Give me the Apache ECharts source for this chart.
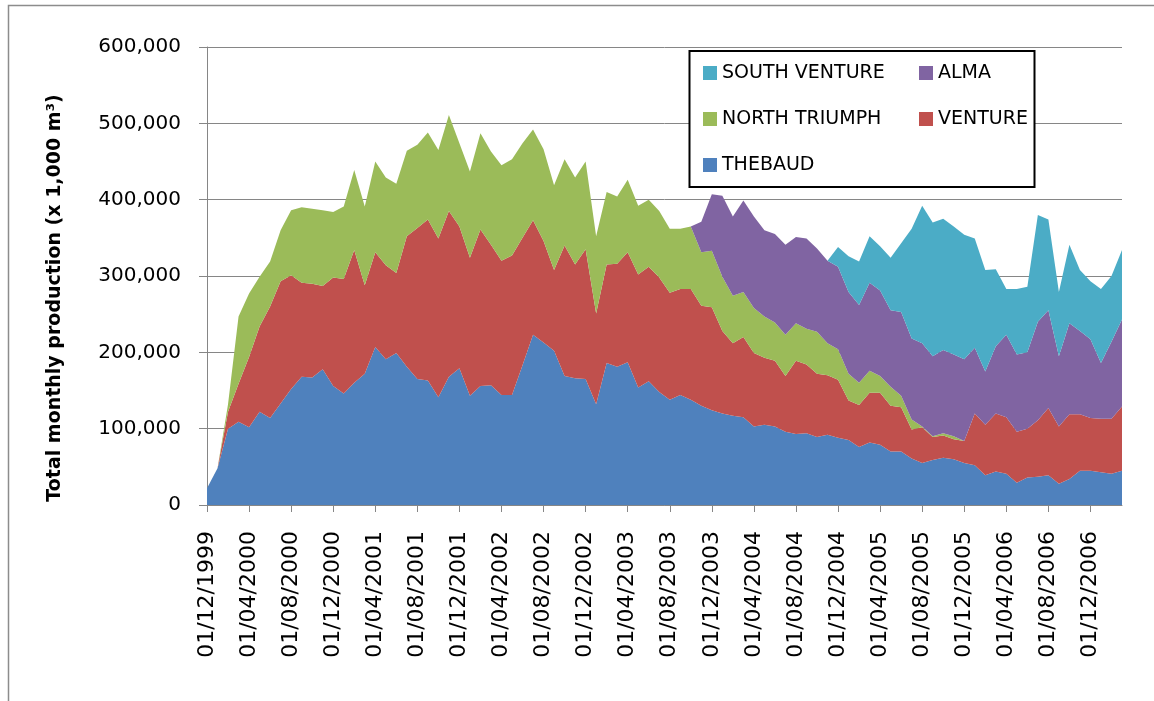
<!DOCTYPE html>
<html>
<head>
<meta charset="utf-8">
<script src="https://cdn.jsdelivr.net/npm/echarts@6/dist/echarts.min.js"></script>
<style>
html,body{margin:0;padding:0;background:#fff;}
#c{width:1154px;height:701px;}
</style>
</head>
<body>
<div id="c"></div>
<script>
// Monthly categories (01/12/1999 .. 01/03/2007)
const categories = [
  "01/12/1999",
  "01/01/2000","01/02/2000","01/03/2000","01/04/2000","01/05/2000","01/06/2000","01/07/2000","01/08/2000","01/09/2000","01/10/2000","01/11/2000","01/12/2000",
  "01/01/2001","01/02/2001","01/03/2001","01/04/2001","01/05/2001","01/06/2001","01/07/2001","01/08/2001","01/09/2001","01/10/2001","01/11/2001","01/12/2001",
  "01/01/2002","01/02/2002","01/03/2002","01/04/2002","01/05/2002","01/06/2002","01/07/2002","01/08/2002","01/09/2002","01/10/2002","01/11/2002","01/12/2002",
  "01/01/2003","01/02/2003","01/03/2003","01/04/2003","01/05/2003","01/06/2003","01/07/2003","01/08/2003","01/09/2003","01/10/2003","01/11/2003","01/12/2003",
  "01/01/2004","01/02/2004","01/03/2004","01/04/2004","01/05/2004","01/06/2004","01/07/2004","01/08/2004","01/09/2004","01/10/2004","01/11/2004","01/12/2004",
  "01/01/2005","01/02/2005","01/03/2005","01/04/2005","01/05/2005","01/06/2005","01/07/2005","01/08/2005","01/09/2005","01/10/2005","01/11/2005","01/12/2005",
  "01/01/2006","01/02/2006","01/03/2006","01/04/2006","01/05/2006","01/06/2006","01/07/2006","01/08/2006","01/09/2006","01/10/2006","01/11/2006","01/12/2006",
  "01/01/2007","01/02/2007","01/03/2007"
];

const thebaud = [
  22000,48000,100000,109000,102000,122000,114000,133000,152000,168000,
  167000,178000,156000,146000,160000,172000,207000,191000,199000,181000,
  165000,163000,141000,168000,179000,143000,156000,157000,144000,144000,
  183000,223000,213000,202000,169000,166000,165000,132000,186000,181000,
  187000,154000,162000,148000,138000,144000,138000,130000,124000,120000,
  117000,115000,103000,105000,103000,96000,93000,94000,89000,92000,
  88000,85000,76000,82000,79000,70000,70000,61000,55000,59000,
  62000,60000,55000,52000,39000,44000,41000,29000,36000,37000,
  39000,28000,34000,45000,45000,43000,41000,45000
];

const venture = [
  0,0,22000,50000,92000,112000,146000,160000,149000,123000,
  123000,109000,142000,150000,174000,116000,124000,123000,105000,171000,
  198000,211000,208000,217000,186000,181000,205000,184000,176000,183000,
  167000,150000,133000,106000,171000,149000,170000,119000,129000,135000,
  144000,148000,150000,150000,140000,139000,145000,131000,135000,108000,
  95000,105000,96000,88000,86000,73000,96000,90000,83000,78000,
  76000,52000,55000,65000,68000,60000,58000,38000,47000,30000,
  29000,26000,29000,68000,66000,76000,74000,67000,64000,74000,
  88000,75000,85000,74000,69000,70000,72000,84000
];

const northTriumph = [
  0,0,10000,88000,83000,65000,59000,67000,85000,99000,
  98000,99000,86000,95000,105000,103000,119000,115000,117000,112000,
  109000,114000,116000,126000,109000,113000,126000,122000,125000,126000,
  124000,119000,120000,111000,113000,114000,115000,101000,95000,88000,
  95000,90000,88000,87000,84000,79000,82000,70000,74000,71000,
  62000,59000,59000,54000,50000,54000,49000,47000,55000,42000,
  40000,35000,29000,29000,22000,25000,15000,13000,1000,1000,
  3000,4000,0,0,0,0,0,0,0,0,
  0,0,0,0,0,0,0,0
];

const alma = [
  0,0,0,0,0,0,0,0,0,0,
  0,0,0,0,0,0,0,0,0,0,
  0,0,0,0,0,0,0,0,0,0,
  0,0,0,0,0,0,0,0,0,0,
  0,0,0,0,0,0,0,40000,74000,106000,
  104000,120000,120000,113000,116000,118000,113000,118000,109000,108000,
  108000,107000,102000,115000,112000,100000,110000,106000,109000,105000,
  109000,107000,107000,86000,70000,88000,108000,101000,100000,129000,
  128000,92000,119000,109000,103000,73000,101000,114000
];

const southVenture = [
  0,0,0,0,0,0,0,0,0,0,
  0,0,0,0,0,0,0,0,0,0,
  0,0,0,0,0,0,0,0,0,0,
  0,0,0,0,0,0,0,0,0,0,
  0,0,0,0,0,0,0,0,0,0,
  0,0,0,0,0,0,0,0,0,0,
  26000,47000,57000,61000,58000,69000,90000,144000,180000,175000,
  172000,168000,163000,143000,133000,101000,60000,86000,86000,140000,
  119000,84000,103000,80000,76000,97000,86000,91000
];

const seriesNames = ["THEBAUD","VENTURE","NORTH TRIUMPH","ALMA","SOUTH VENTURE"];
const seriesColors = ["#4F81BD","#C0504D","#9BBB59","#8064A2","#4BACC6"];
const yTitle = "Total monthly production (x 1,000 m\u00B3)";

const FONT = "DejaVu Sans";
const GRAY = "#868686";

function mk(name, data, color) {
  return {
    name: name, type: "line", stack: "total", data: data,
    symbol: "none", showSymbol: false,
    lineStyle: { width: 0 },
    areaStyle: { color: color, opacity: 1 },
    itemStyle: { color: color },
    emphasis: { disabled: true },
    silent: true
  };
}

const chart = echarts.init(document.getElementById("c"), null, { renderer: "canvas" });
const legendCommon = {
  orient: "vertical", top: 63, padding: 0,
  itemWidth: 14, itemHeight: 14, itemGap: 26, icon: "rect",
  selectedMode: false, z: 20,
  textStyle: { fontFamily: FONT, fontSize: 19, color: "#000", lineHeight: 20 }
};
chart.setOption({
  animation: false,
  backgroundColor: "#fff",
  grid: { left: 207, right: 32, top: 47, bottom: 196, containLabel: false },
  xAxis: {
    type: "category", boundaryGap: false, data: categories,
    axisLine: { lineStyle: { color: GRAY, width: 1 } },
    axisTick: { interval: 3, length: 7, lineStyle: { color: GRAY } },
    axisLabel: { interval: 3, rotate: 90, margin: 26, fontFamily: FONT, fontSize: 22, color: "#000" },
    splitLine: { show: false }
  },
  yAxis: {
    type: "value", min: 0, max: 600000, interval: 100000,
    axisLine: { show: true, lineStyle: { color: GRAY, width: 1 } },
    axisTick: { show: true, length: 8, lineStyle: { color: GRAY } },
    axisLabel: { margin: 26, fontFamily: FONT, fontSize: 20, color: "#000",
      formatter: function (v) { return v.toLocaleString("en-US"); } },
    splitLine: { show: true, lineStyle: { color: GRAY, width: 1 } }
  },
  legend: [
    Object.assign({}, legendCommon, { left: 703, data: ["SOUTH VENTURE", "NORTH TRIUMPH", "THEBAUD"] }),
    Object.assign({}, legendCommon, { left: 919, data: ["ALMA", "VENTURE"] })
  ],
  graphic: [
    { type: "rect", z: 0, silent: true,
      shape: { x: 8.5, y: 5.5, width: 1200, height: 800 },
      style: { fill: null, stroke: "#8c8c8c", lineWidth: 1.5 } },
    { type: "rect", z: 15, silent: true,
      shape: { x: 689.5, y: 51, width: 345, height: 136 },
      style: { fill: "#fff", stroke: "#000", lineWidth: 2 } },
    { type: "text", z: 15, silent: true, x: 55, y: 298, rotation: Math.PI / 2,
      style: { text: yTitle, fontFamily: FONT, fontSize: 19, fontWeight: "bold", fill: "#000",
        align: "center", verticalAlign: "middle" } }
  ],
  series: [
    mk(seriesNames[0], thebaud, seriesColors[0]),
    mk(seriesNames[1], venture, seriesColors[1]),
    mk(seriesNames[2], northTriumph, seriesColors[2]),
    mk(seriesNames[3], alma, seriesColors[3]),
    mk(seriesNames[4], southVenture, seriesColors[4])
  ]
});
</script>
</body>
</html>
